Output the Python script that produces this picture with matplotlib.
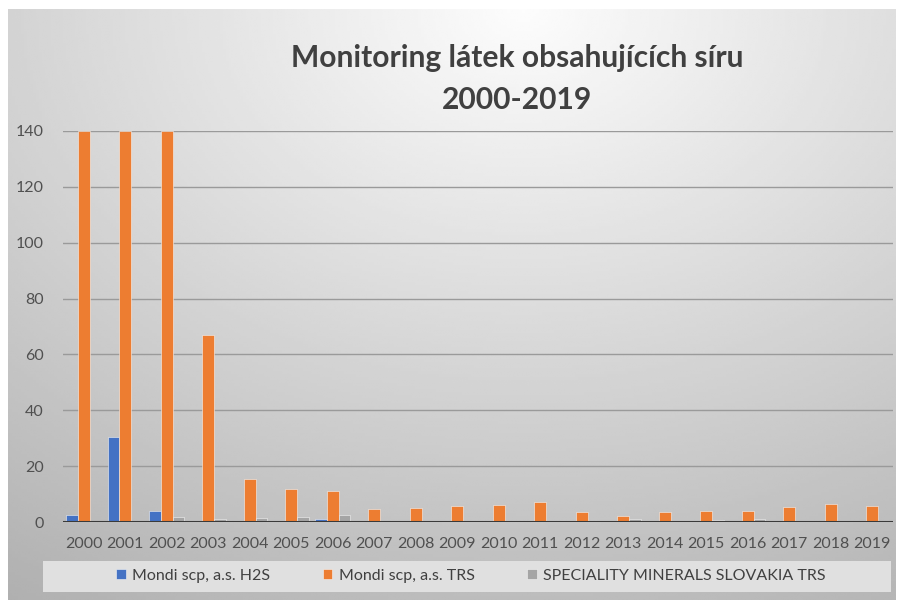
# Import Dependencies

import numpy as np

from matplotlib import pyplot as plt
from matplotlib.patches import Rectangle

# Chart data

years = [str(year) for year in range(2000, 2020)]

mondi_h2s = [2.5, 30.5, 3.9, 0.5, 0.0, 0.0, 1.0, 0.0, 0.0, 0.0,
             0.0, 0.0, 0.0, 0.0, 0.0, 0.0, 0.0, 0.0, 0.0, 0.0]

mondi_trs = [140, 140, 140, 67, 15.4, 11.8, 11.1, 4.6, 5.0, 5.7,
             6.0, 7.2, 3.6, 2.3, 3.6, 3.9, 3.9, 5.4, 6.3, 5.7]

speciality_trs = [0.3, 0.3, 1.8, 1.0, 1.6, 1.9, 2.6, 0.3, 0.3, 0.3,
                  0.3, 0.3, 0.3, 1.0, 0.3, 0.8, 1.0, 0.3, 0.3, 0.3]

series_names = ["Mondi scp, a.s. H2S", "Mondi scp, a.s. TRS", "SPECIALITY MINERALS SLOVAKIA TRS"]

series_colors = ["#4472C4", "#ED7D31", "#A5A5A5"]

y_ticks = [0, 20, 40, 60, 80, 100, 120, 140]

title = "Monitoring látek obsahujících síru\n2000-2019"

plt.rcParams['font.family'] = ['Lato', 'DejaVu Sans']

W, H = 903, 604

fig = plt.figure(figsize=(W / 100, H / 100), dpi=100)

# Background: white page with a gray gradient chart area

bg = fig.add_axes([0, 0, 1, 1], zorder=-10)
bg.set_xlim(0, W)
bg.set_ylim(H, 0)
bg.axis("off")

gx, gy = np.meshgrid(np.linspace(0, 1, 300), np.linspace(0, 1, 200))
dist = np.sqrt((gx - 0.58) ** 2 + (gy * 0.9) ** 2)
shade = 0.99 - 0.28 * np.clip(dist, 0, 1.1)
bg.imshow(shade, cmap="gray", vmin=0, vmax=1, extent=[8, 896, 600, 9],
          aspect="auto", interpolation="bilinear")

# Legend box

bg.add_patch(Rectangle((43, 561), 848, 31, facecolor="#e0e0e0", edgecolor="none", zorder=2))

# Plot area

ax = fig.add_axes([63 / W, 1 - 522 / H, (893 - 63) / W, (522 - 131) / H])
ax.patch.set_alpha(0)

x = np.arange(len(years))
bar_width = 0.28

all_series = [mondi_h2s, mondi_trs, speciality_trs]

for index, values in enumerate(all_series):
    ax.bar(x + (index - 1) * bar_width, values, width=bar_width,
           color=series_colors[index], edgecolor="#f4f4f4", linewidth=0.4,
           label=series_names[index], zorder=3)

ax.set_xlim(-0.5, len(years) - 0.5)
ax.set_ylim(0, 140)
ax.set_xticks(x)
ax.set_xticklabels(years)
ax.set_yticks(y_ticks)

# Gridlines and axis styling

ax.grid(axis="y", color="#9a9a9a", linewidth=1.0, zorder=0)
ax.axhline(0, color="#3a3a3a", linewidth=2.2, zorder=4)

for spine in ax.spines.values():
    spine.set_visible(False)

ax.tick_params(axis="both", length=0, colors="#505050", labelsize=11.5)
ax.tick_params(axis="x", pad=11)
ax.tick_params(axis="y", pad=14)

# Title

fig.text(517 / W, 1 - 79 / H, title, ha="center", va="center", fontsize=21.6,
         fontweight="bold", color="#404040", linespacing=1.6)

# Legend

handles, labels = ax.get_legend_handles_labels()
fig.legend(handles, labels, loc="center", bbox_to_anchor=(471 / W, 1 - 576 / H),
           ncol=3, frameon=False, fontsize=11.5, labelcolor="#404040",
           handlelength=0.6, handleheight=0.6, handletextpad=0.4, columnspacing=3.3)

plt.savefig("out.png", dpi=100)
